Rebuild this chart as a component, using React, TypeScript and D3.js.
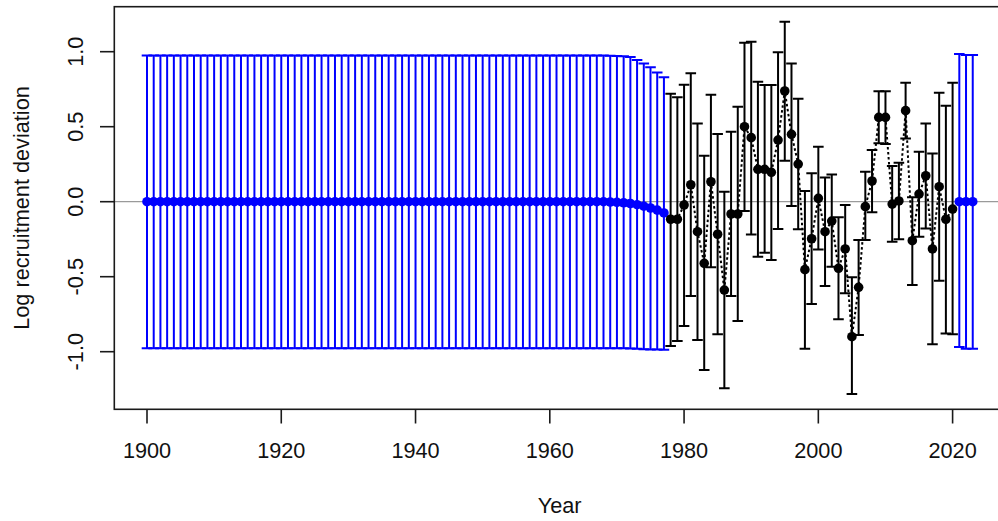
import React from "react";
import * as d3 from "d3";

// ---- Data ----
// Early (blue) recruitment deviations 1900-1977
const earlyYears = d3.range(1900, 1978);
const earlyDev = [
  0, 0, 0, 0, 0, 0, 0, 0, 0, 0,
  0, 0, 0, 0, 0, 0, 0, 0, 0, 0,
  0, 0, 0, 0, 0, 0, 0, 0, 0, 0,
  0, 0, 0, 0, 0, 0, 0, 0, 0, 0,
  0, 0, 0, 0, 0, 0, 0, 0, 0, 0,
  0, 0, 0, 0, 0, 0, 0, 0, 0, 0,
  0, 0, 0, 0, 0, 0, 0, 0, 0, -0.002,
  -0.004, -0.007, -0.012, -0.02, -0.03, -0.042, -0.056, -0.075,
];
const earlyUpper = [
  0.975, 0.975, 0.975, 0.975, 0.975, 0.975, 0.975, 0.975, 0.975, 0.975,
  0.975, 0.975, 0.975, 0.975, 0.975, 0.975, 0.975, 0.975, 0.975, 0.975,
  0.975, 0.975, 0.975, 0.975, 0.975, 0.975, 0.975, 0.975, 0.975, 0.975,
  0.975, 0.975, 0.975, 0.975, 0.975, 0.975, 0.975, 0.975, 0.975, 0.975,
  0.975, 0.975, 0.975, 0.975, 0.975, 0.975, 0.975, 0.975, 0.975, 0.975,
  0.975, 0.975, 0.975, 0.975, 0.975, 0.975, 0.975, 0.975, 0.975, 0.975,
  0.975, 0.975, 0.975, 0.975, 0.975, 0.975, 0.975, 0.974, 0.974, 0.973,
  0.972, 0.97, 0.965, 0.945, 0.922, 0.896, 0.862, 0.829,
];
const earlyLower = [
  -0.977, -0.977, -0.977, -0.977, -0.977, -0.977, -0.977, -0.977, -0.977, -0.977,
  -0.977, -0.977, -0.977, -0.977, -0.977, -0.977, -0.977, -0.977, -0.977, -0.977,
  -0.977, -0.977, -0.977, -0.977, -0.977, -0.977, -0.977, -0.977, -0.977, -0.977,
  -0.977, -0.977, -0.977, -0.977, -0.977, -0.977, -0.977, -0.977, -0.977, -0.977,
  -0.977, -0.977, -0.977, -0.977, -0.977, -0.977, -0.977, -0.977, -0.977, -0.977,
  -0.977, -0.977, -0.977, -0.977, -0.977, -0.977, -0.977, -0.977, -0.977, -0.977,
  -0.977, -0.977, -0.977, -0.977, -0.977, -0.977, -0.977, -0.977, -0.977, -0.977,
  -0.977, -0.977, -0.978, -0.98, -0.983, -0.985, -0.986, -0.987,
];

// Main (black) recruitment deviations 1978-2020
const mainYears = d3.range(1978, 2021);
const mainDev = [
  -0.117, -0.117, -0.022, 0.113, -0.2, -0.411, 0.133, -0.217, -0.589, -0.082,
  -0.082, 0.5, 0.427, 0.216, 0.216, 0.196, 0.411, 0.738, 0.449, 0.251,
  -0.453, -0.247, 0.022, -0.2, -0.129, -0.444, -0.315, -0.9, -0.571, -0.033,
  0.138, 0.562, 0.562, -0.016, 0.005, 0.607, -0.26, 0.051, 0.173, -0.315,
  0.1, -0.117, -0.049,
];
const mainUpper = [
  0.72, 0.696, 0.78, 0.856, 0.522, 0.307, 0.713, 0.451, 0.067, 0.467,
  0.633, 1.06, 1.067, 0.8, 0.778, 0.778, 0.996, 1.2, 0.922, 0.687,
  0.071, 0.189, 0.367, 0.162, 0.182, -0.104, -0.022, -0.504, -0.256, 0.2,
  0.345, 0.736, 0.736, 0.238, 0.26, 0.793, 0.029, 0.333, 0.522, 0.322,
  0.727, 0.64, 0.793,
];
const mainLower = [
  -0.962, -0.929, -0.829, -0.629, -0.922, -1.122, -0.437, -0.884, -1.244, -0.629,
  -0.796, -0.062, -0.218, -0.367, -0.34, -0.389, -0.182, 0.273, -0.029, -0.184,
  -0.98, -0.682, -0.318, -0.562, -0.433, -0.784, -0.611, -1.282, -0.889, -0.256,
  -0.071, 0.389, 0.385, -0.267, -0.251, 0.422, -0.555, -0.233, -0.178, -0.951,
  -0.527, -0.878, -0.884,
];

// Late (blue) forecast deviations 2021-2023
const lateYears = [2021, 2022, 2023];
const lateDev = [0, 0, 0];
const lateUpper = [0.985, 0.978, 0.978];
const lateLower = [-0.969, -0.98, -0.98];

const xTicks = [1900, 1920, 1940, 1960, 1980, 2000, 2020];
const yTicks = [-1, -0.5, 0, 0.5, 1];
const yTickLabels = ["-1.0", "-0.5", "0.0", "0.5", "1.0"];

type Rec = { year: number; dev: number; lo: number; hi: number };
const zip = (ys: number[], d: number[], lo: number[], hi: number[]): Rec[] =>
  ys.map((year, i) => ({ year, dev: d[i], lo: lo[i], hi: hi[i] }));

const early = zip(earlyYears, earlyDev, earlyLower, earlyUpper);
const main = zip(mainYears, mainDev, mainLower, mainUpper);
const late = zip(lateYears, lateDev, lateLower, lateUpper);

const W = 998;
const H = 521;
const plotLeft = 114.3;
const plotTop = 6.7;
const plotBottom = 409.3;
const plotRight = 1005;

const x = d3.scaleLinear().domain([1900, 2020]).range([147, 952.6]);
const y = d3.scaleLinear().domain([1, -1]).range([51.7, 351.7]);

const FONT = "'Liberation Sans', Arial, Helvetica, sans-serif";
const FS = 21.7;
const CAP = 5.3;

function ErrorBars({ data, color }: { data: Rec[]; color: string }) {
  return (
    <g stroke={color} strokeWidth={2} fill="none">
      {data.map((d) => {
        const cx = x(d.year);
        return (
          <g key={d.year}>
            <line x1={cx} x2={cx} y1={y(d.lo)} y2={y(d.hi)} />
            <line x1={cx - CAP} x2={cx + CAP} y1={y(d.hi)} y2={y(d.hi)} />
            <line x1={cx - CAP} x2={cx + CAP} y1={y(d.lo)} y2={y(d.lo)} />
          </g>
        );
      })}
    </g>
  );
}

function Points({ data, color }: { data: Rec[]; color: string }) {
  return (
    <g fill={color}>
      {data.map((d) => (
        <circle key={d.year} cx={x(d.year)} cy={y(d.dev)} r={4.8} />
      ))}
    </g>
  );
}

export default function App() {
  const line = d3
    .line<Rec>()
    .x((d) => x(d.year))
    .y((d) => y(d.dev));

  return (
    <svg
      width={W}
      height={H}
      style={{ position: "absolute", left: 0, top: 0, background: "#fff" }}
      fontFamily={FONT}
    >
      <rect x={0} y={0} width={W} height={H} fill="#fff" />
      <defs>
        <clipPath id="plotclip">
          <rect x={plotLeft} y={plotTop} width={plotRight - plotLeft} height={plotBottom - plotTop} />
        </clipPath>
      </defs>
      <g clipPath="url(#plotclip)">
        <line x1={plotLeft} x2={plotRight} y1={y(0)} y2={y(0)} stroke="#9a9a9a" strokeWidth={1.3} />
        <path
          d={line(early) || ""}
          fill="none"
          stroke="#0000ff"
          strokeWidth={2}
          strokeDasharray="2.5,2.5"
        />
        <path
          d={line(main) || ""}
          fill="none"
          stroke="#000"
          strokeWidth={2}
          strokeDasharray="2.5,2.5"
        />
        <ErrorBars data={early} color="#0000ff" />
        <ErrorBars data={late} color="#0000ff" />
        <ErrorBars data={main} color="#000" />
        <Points data={early} color="#0000ff" />
        <Points data={late} color="#0000ff" />
        <Points data={main} color="#000" />
      </g>
      {/* frame */}
      <rect
        x={plotLeft}
        y={plotTop}
        width={plotRight - plotLeft}
        height={plotBottom - plotTop}
        fill="none"
        stroke="#1a1a1a"
        strokeWidth={1.6}
      />
      {/* x axis */}
      <g>
        {xTicks.map((t) => (
          <g key={t}>
            <line x1={x(t)} x2={x(t)} y1={plotBottom} y2={423.5} stroke="#1a1a1a" strokeWidth={1.6} />
            <text x={x(t)} y={458.3} textAnchor="middle" fontSize={FS} fill="#111">
              {t}
            </text>
          </g>
        ))}
        <text x={(plotLeft + plotRight) / 2} y={512.5} textAnchor="middle" fontSize={FS} fill="#111">
          Year
        </text>
      </g>
      {/* y axis */}
      <g>
        {yTicks.map((t, i) => (
          <g key={t}>
            <line x1={100} x2={plotLeft} y1={y(t)} y2={y(t)} stroke="#1a1a1a" strokeWidth={1.6} />
            <text
              transform={`translate(83,${y(t)}) rotate(-90)`}
              textAnchor="middle"
              fontSize={FS}
              fill="#111"
            >
              {yTickLabels[i]}
            </text>
          </g>
        ))}
        <text
          transform={`translate(28.5,${(plotTop + plotBottom) / 2}) rotate(-90)`}
          textAnchor="middle"
          fontSize={FS}
          fill="#111"
        >
          Log recruitment deviation
        </text>
      </g>
    </svg>
  );
}
